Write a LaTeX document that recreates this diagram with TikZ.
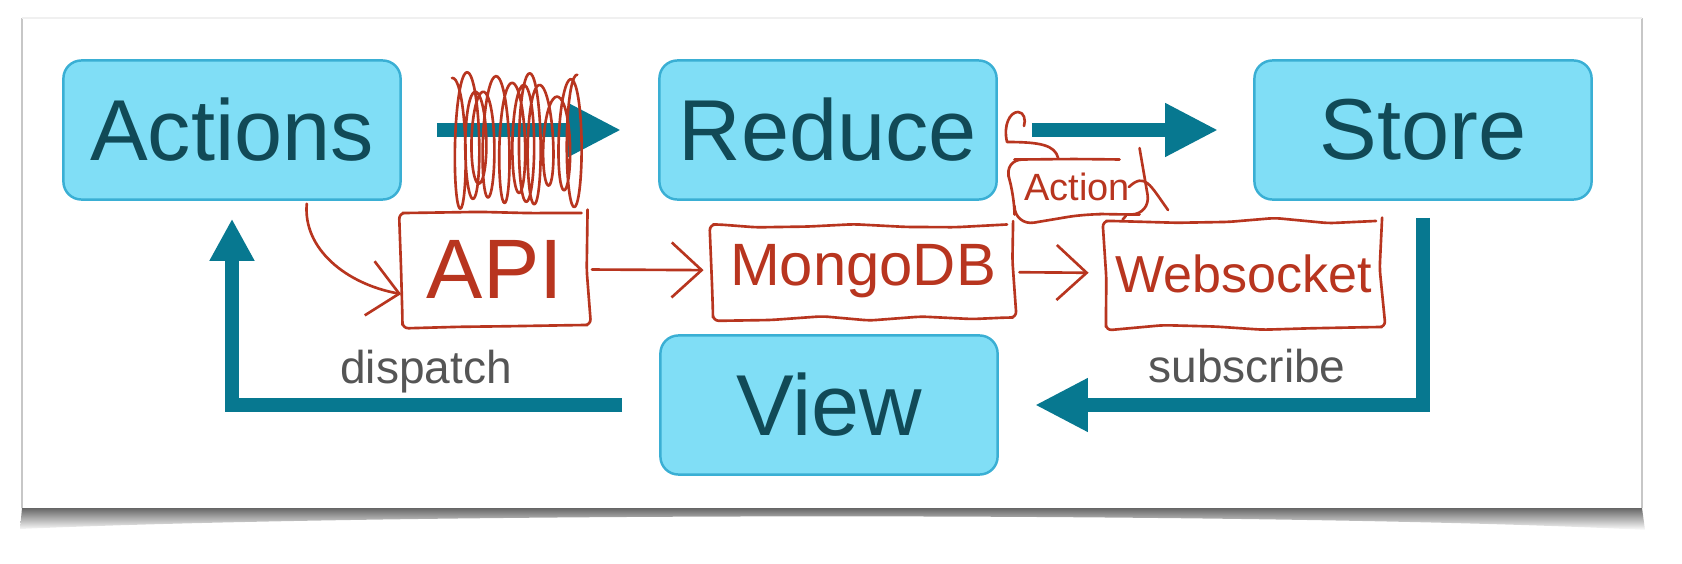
\documentclass[tikz,border=0pt]{standalone}
\usepackage{fontspec}
\setmainfont{Liberation Sans}
\usetikzlibrary{arrows.meta,decorations.pathmorphing}
\definecolor{boxfill}{HTML}{80DEF6}
\definecolor{boxline}{HTML}{3AAFD4}
\definecolor{boxtext}{HTML}{114A57}
\definecolor{flowcol}{HTML}{077890}
\definecolor{inkred}{HTML}{B8351F}
\definecolor{notecol}{HTML}{555555}
\pgfmathsetseed{11}
\tikzset{%
	block/.style    = {draw=boxline, line width=0.7pt, fill=boxfill, rounded corners=0.18cm,
		minimum width=3.37cm, minimum height=1.39cm, text=boxtext,
		font=\fontsize{24.6}{30}\selectfont},
	flow/.style     = {draw=flowcol, line width=0.14cm,
		>={Triangle[length=0.53cm,width=0.5cm]}}, % thick teal arrow
	note/.style     = {text=notecol, font=\fontsize{13.1}{16}\selectfont, anchor=base}, % arrow label
	ink/.style      = {draw=inkred, line width=0.75pt, line cap=round, line join=round,
		>={Straight Barb[length=0.3cm,width=0.55cm]}}, % red pen
	sketch/.style   = {ink, rounded corners=0.06cm, decorate, text=inkred, inner sep=0.05cm,
		decoration={random steps, segment length=0.5cm, amplitude=0.035cm}} % hand drawn box
}

\begin{document}
\begin{tikzpicture}[x=0.01cm, y=-0.01cm]
	\useasboundingbox (0,0) rectangle (1682,564);
	% sheet and its shadow
	\shade[top color=black!60, bottom color=white] (22,508) -- (1642,508) -- (1645,530)
		.. controls (1300,512) and (400,512) .. (20,529) -- cycle;
	\fill[white] (22,18) rectangle (1642,508);
	\draw[black!22, line width=0.6pt] (22,508) -- (22,18);
	\draw[black!22, line width=0.6pt] (1642,508) -- (1642,18);
	\draw[black!6, line width=0.4pt] (22,18) -- (1642,18);

	\node[block] (actions) at (232,130) {Actions};
	\node[block] (reduce)  at (828,130) {Reduce};
	\node[block] (store)   at (1423,130) {Store};
	\node[block] (view)    at (829,405) {View};

	\draw[flow,->,shorten <=0.35cm,shorten >=0.37cm] (actions) -- (reduce);
	\draw[flow,->,shorten <=0.34cm,shorten >=0.35cm] (reduce) -- (store);
	\draw[flow,->] ([yshift=-0.17cm]store.south) |- ([xshift=0.36cm]view.east);
	\draw[flow,->,>={Triangle[length=0.42cm,width=0.42cm]}]
		([xshift=-0.37cm]view.west) -| ([yshift=-0.18cm]actions.south);

	\node[note] (dispatch)  at (426,383)  {dispatch};
	\node[note] (subscribe) at (1247,382) {subscribe};

	% red pen notes
	\draw[ink] plot[smooth, variable=\t, domain=0:3960, samples=441]
		({452+\t/3960*126+9*sin(\t)+4*sin(0.23*\t)},
		 {140-(57+9*sin(0.31*\t)+5*cos(0.17*\t))*cos(\t)});

	\node[sketch, minimum width=1.85cm, minimum height=1.12cm,
		font=\fontsize{24}{28}\selectfont] (api) at (495,269) {API};
	\node[sketch, minimum width=3.0cm, minimum height=0.93cm,
		font=\fontsize{17}{20}\selectfont] (mongo) at (863,271) {MongoDB};
	\node[sketch, minimum width=2.76cm, minimum height=1.06cm,
		font=\fontsize{14.8}{18}\selectfont] (websocket) at (1244,274) {Websocket};
	\node[sketch, rounded corners=0.2cm, minimum width=1.25cm, minimum height=0.55cm,
		font=\fontsize{10.8}{13}\selectfont] (actnote) at (1077,187) {Action};

	\draw[ink,->] ([xshift=-0.95cm,yshift=-0.03cm]actions.south east)
		.. controls +(-4,45) and +(-55,-10) .. ([yshift=-0.25cm]api.west);
	\draw[ink,->,shorten <=0.03cm,shorten >=0.08cm] (api) -- (mongo);
	\draw[ink,->,shorten <=0.05cm,shorten >=0.16cm] (mongo) -- (websocket);

	\draw[ink] ([xshift=0.45cm]actnote.north west) .. controls (1055,145) and (1040,142) .. (1007,142)
		.. controls (1003,125) and (1010,112) .. (1018,112) .. controls (1024,112) and (1026,120) .. (1024,126);
	\draw[ink] ([xshift=-0.12cm]actnote.east) .. controls (1145,172) and (1150,185) .. (1168,210);
	\draw[ink] ([xshift=-0.15cm]actnote.south east) -- ([xshift=0.18cm]websocket.north west);
\end{tikzpicture}
\end{document}
